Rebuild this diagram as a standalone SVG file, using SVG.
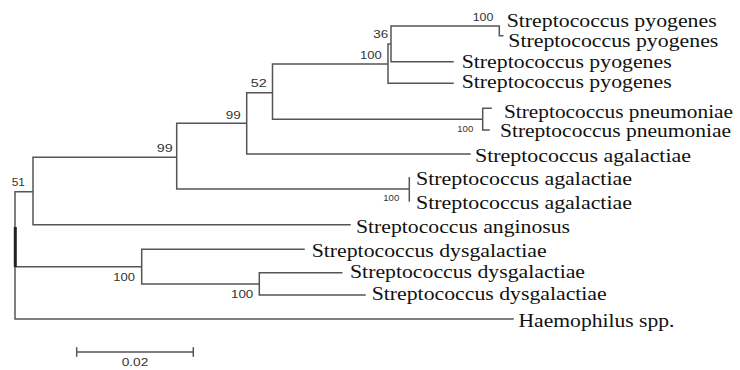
<svg xmlns="http://www.w3.org/2000/svg" width="740" height="370" viewBox="0 0 740 370">
<style>
.br{fill:none;stroke:#555;stroke-width:1.5;stroke-linecap:square}
.lab{font-family:"Liberation Serif","Times New Roman",serif;font-size:19.5px;fill:#111}
.bs{font-family:"Liberation Sans",Arial,sans-serif;font-size:11px;fill:#333}
.bss{font-family:"Liberation Sans",Arial,sans-serif;font-size:9px;fill:#333}
</style>
<rect width="740" height="370" fill="#fff"/>
<g id="connectors">
<path class="br" d="M15,191.7 V319 M15,191.7 H33 M15,266.7 H141.7 M15,319 H513
M33,157.3 V224.7 M33,157.3 H176.7 M33,224.7 H350
M176.7,123.3 V189 M176.7,123.3 H246.7 M176.7,189 H409.3 M409.3,177.7 V201
M246.7,92.7 V154 M246.7,92.7 H272.5 M246.7,154 H470
M272.5,64 V119.3 M272.5,64 H388 M272.5,119.3 H482.7
M482.7,108.3 V130 M482.7,108.3 H491 M482.7,130 H489
M388,44 V83.3 M388,44 H391 M388,83.3 H453
M391,26 V61.7 M391,26 H499.3 M391,61.7 H453
M499.3,26 V35.7 H502.7
M141.7,249.3 V284 M141.7,249.3 H304 M141.7,284 H259.3
M259.3,272.7 V295 M259.3,272.7 H341.7 M259.3,295 H365"/>
<rect x="13.8" y="227" width="3" height="40" fill="#222"/>
</g>
<g id="scale">
<path class="br" d="M76.7,352 H193.3 M76.7,348 V356 M193.3,348 V356"/>
<text class="bs" x="121.7" y="366" textLength="26.6" lengthAdjust="spacingAndGlyphs">0.02</text>
</g>
<g id="n-root-51"><text class="bs" x="11.7" y="186" textLength="13.3" lengthAdjust="spacingAndGlyphs">51</text></g>
<g id="n-99a"><text class="bs" x="156.7" y="151.7" textLength="16" lengthAdjust="spacingAndGlyphs">99</text></g>
<g id="n-99b"><text class="bs" x="225.7" y="119" textLength="15" lengthAdjust="spacingAndGlyphs">99</text></g>
<g id="n-52"><text class="bs" x="250.7" y="87.3" textLength="16" lengthAdjust="spacingAndGlyphs">52</text></g>
<g id="n-100-pyo"><text class="bs" x="360" y="59.3" textLength="21.7" lengthAdjust="spacingAndGlyphs">100</text></g>
<g id="n-36"><text class="bs" x="373.3" y="37.7" textLength="15" lengthAdjust="spacingAndGlyphs">36</text></g>
<g id="n-100-pyopair"><text class="bs" x="472.7" y="20.7" textLength="20.7" lengthAdjust="spacingAndGlyphs">100</text></g>
<g id="n-100-pneu"><text class="bss" x="457.3" y="132" textLength="16" lengthAdjust="spacingAndGlyphs">100</text></g>
<g id="n-100-aga"><text class="bss" x="383.3" y="201" textLength="16" lengthAdjust="spacingAndGlyphs">100</text></g>
<g id="n-100-dys"><text class="bs" x="113.3" y="280.7" textLength="21.7" lengthAdjust="spacingAndGlyphs">100</text></g>
<g id="n-100-dys2"><text class="bs" x="231" y="297.7" textLength="22.3" lengthAdjust="spacingAndGlyphs">100</text></g>
<g id="leaf-pyo1"><text class="lab" x="506.7" y="26.8" textLength="210" lengthAdjust="spacingAndGlyphs">Streptococcus pyogenes</text></g>
<g id="leaf-pyo2"><text class="lab" x="508.3" y="47" textLength="210" lengthAdjust="spacingAndGlyphs">Streptococcus pyogenes</text></g>
<g id="leaf-pyo3"><text class="lab" x="461.7" y="68.3" textLength="210" lengthAdjust="spacingAndGlyphs">Streptococcus pyogenes</text></g>
<g id="leaf-pyo4"><text class="lab" x="461.7" y="88.3" textLength="210" lengthAdjust="spacingAndGlyphs">Streptococcus pyogenes</text></g>
<g id="leaf-pneu1"><text class="lab" x="504" y="117.8" textLength="229" lengthAdjust="spacingAndGlyphs">Streptococcus pneumoniae</text></g>
<g id="leaf-pneu2"><text class="lab" x="500" y="137" textLength="231" lengthAdjust="spacingAndGlyphs">Streptococcus pneumoniae</text></g>
<g id="leaf-aga1"><text class="lab" x="475" y="161.7" textLength="216" lengthAdjust="spacingAndGlyphs">Streptococcus agalactiae</text></g>
<g id="leaf-aga2"><text class="lab" x="416" y="185" textLength="216" lengthAdjust="spacingAndGlyphs">Streptococcus agalactiae</text></g>
<g id="leaf-aga3"><text class="lab" x="416" y="209.3" textLength="216" lengthAdjust="spacingAndGlyphs">Streptococcus agalactiae</text></g>
<g id="leaf-ang"><text class="lab" x="356" y="233.3" textLength="214" lengthAdjust="spacingAndGlyphs">Streptococcus anginosus</text></g>
<g id="leaf-dys1"><text class="lab" x="311.7" y="256.7" textLength="235" lengthAdjust="spacingAndGlyphs">Streptococcus dysgalactiae</text></g>
<g id="leaf-dys2"><text class="lab" x="350" y="278.3" textLength="235" lengthAdjust="spacingAndGlyphs">Streptococcus dysgalactiae</text></g>
<g id="leaf-dys3"><text class="lab" x="371.7" y="300" textLength="235" lengthAdjust="spacingAndGlyphs">Streptococcus dysgalactiae</text></g>
<g id="leaf-hae"><text class="lab" x="518.5" y="326.7" textLength="156" lengthAdjust="spacingAndGlyphs">Haemophilus spp.</text></g>
</svg>
